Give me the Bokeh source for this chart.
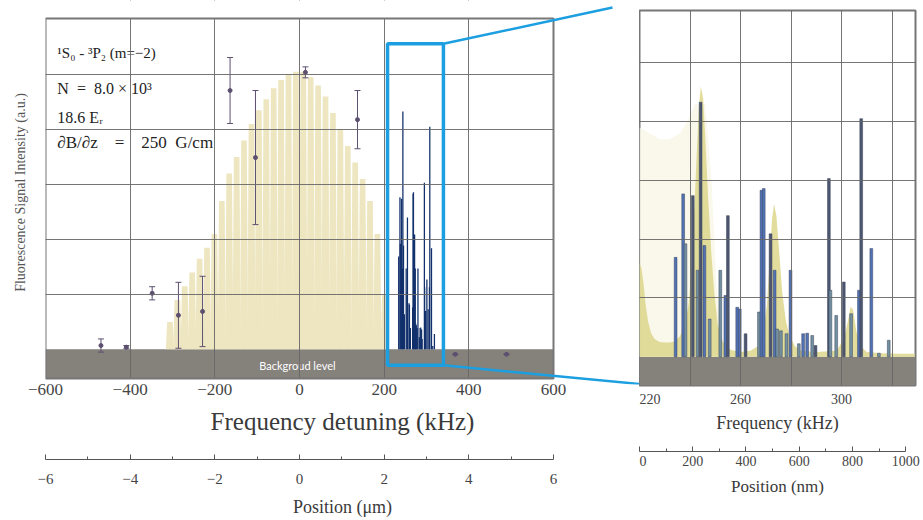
from bokeh.plotting import figure
from bokeh.models import (Range1d, LinearAxis, FixedTicker, BoxAnnotation, Label,
                          Whisker, TeeHead, ColumnDataSource, Arrow, Title)
from bokeh.layouts import row
from bokeh.transform import factor_cmap
from bokeh.embed import file_html
from bokeh.resources import INLINE

# ---------------- data ----------------
# lattice-resolved spectrum (yellow comb), main panel
comb_freq = [-306, -288.5, -271, -253.5, -236, -218.5, -201, -183.5, -166, -148.5,
             -131, -113.5, -96, -78.5, -61, -43.5, -26, -8.5, 9, 26.5,
             44, 61.5, 79, 96.5, 114, 131.5, 149, 166.5, 184, 201.5]
comb_height = [0.5, 0.9, 1.15, 1.4, 1.65, 1.85, 2.1, 2.7, 3.2, 3.5,
               3.8, 4.1, 4.35, 4.55, 4.75, 4.9, 5.0, 5.05, 5.05, 4.95,
               4.8, 4.6, 4.3, 4.0, 3.7, 3.4, 3.1, 2.7, 2.1, 1.0]

# measured points with error bars
pt_freq = [-469, -409, -348, -286, -229, -164, -104, 14, 137, 368, 489]
pt_val = [0.07, 0.04, 1.02, 0.62, 0.69, 4.71, 3.49, 5.04, 4.18, -0.09, -0.09]
pt_err = [0.12, 0.03, 0.12, 0.60, 0.64, 0.60, 1.22, 0.10, 0.53, 0.0, 0.0]

# zoomed single-site spectrum (bars)
bar_freq = [234.3, 237.3, 238.2, 241.1, 243.0, 244.2, 245.7, 247.8, 252.0, 254.0,
            255.0, 258.7, 259.7, 262.0, 267.3, 268.3, 269.2, 271.9, 273.5, 274.5,
            276.0, 278.2, 279.8, 283.1, 284.8, 286.4, 288.4, 289.7, 295.0, 295.6,
            297.9, 300.9, 303.8, 306.9, 307.8, 311.8, 314.8, 318.7]
bar_val = [1.69, 2.77, 1.92, 2.74, 1.47, 4.33, 1.89, 0.64, 1.47, 1.04,
           2.40, 0.84, 0.81, 0.39, 0.76, 2.83, 2.86, 2.09, 1.47, 0.47,
           0.44, 0.39, 1.47, 0.22, 0.39, 0.40, 0.36, 0.19, 3.03, 1.13,
           0.70, 1.27, 0.73, 1.13, 4.05, 1.84, 0.06, 0.28]
bar_group = ["a", "a", "c", "b", "c", "b", "a", "c", "c", "a",
             "b", "a", "a", "b", "c", "a", "a", "b", "a", "c",
             "c", "c", "a", "c", "a", "a", "c", "b", "b", "c",
             "c", "b", "c", "a", "b", "a", "c", "c"]

# yellow spectrum profile in the zoom panel
prof_freq = [220.0, 220.8, 221.6, 222.4, 223.4, 224.6, 226.0, 228.0, 230.0, 232.0,
             234.0, 236.0, 238.0, 239.5, 240.8, 241.8, 242.8, 243.6, 244.3, 245.2,
             246.2, 247.2, 248.4, 249.6, 251.0, 253.0, 256.0, 260.0, 264.0, 267.0,
             269.0, 270.5, 271.6, 272.5, 273.3, 274.2, 275.3, 276.5, 278.0, 279.5,
             281.5, 284.0, 290.0, 298.0, 301.0, 302.5, 303.6, 304.6, 305.8, 307.5,
             310.0, 316.0, 322.0, 329.0]
prof_val = [1.60, 1.50, 1.25, 0.90, 0.60, 0.40, 0.30, 0.25, 0.24, 0.24,
            0.26, 0.35, 0.55, 0.90, 1.60, 2.60, 3.60, 4.30, 4.60, 4.40,
            3.60, 2.70, 1.80, 1.10, 0.55, 0.25, 0.12, 0.08, 0.10, 0.18,
            0.40, 0.90, 1.70, 2.35, 2.60, 2.40, 1.80, 1.10, 0.60, 0.35,
            0.18, 0.10, 0.08, 0.10, 0.30, 0.60, 0.85, 0.80, 0.45, 0.18,
            0.08, 0.06, 0.05, 0.05]
# faint wide wash at the low-frequency side of the zoom panel
wash_freq = [220.0, 224.0, 228.0, 232.0, 236.0, 239.0, 242.0, 246.0, 248.5, 250.5, 252.5]
wash_val = [3.9, 3.8, 3.7, 3.7, 3.8, 4.0, 4.3, 4.3, 3.0, 1.2, 0.2]

# ticks
freq_ticks = [-600, -400, -200, 0, 200, 400, 600]
freq_grid = [-400, -200, 0, 200, 400]
pos_um_ticks = [-6, -4, -2, 0, 2, 4, 6]
pos_um_minor = [-5, -3, -1, 1, 3, 5]
zoom_freq_ticks = [220, 260, 300]
zoom_freq_grid = [240, 260, 280, 300, 320]
pos_nm_ticks = [0, 200, 400, 600, 800, 1000]
pos_nm_minor = [100, 300, 500, 700, 900]
intensity_grid = [1, 2, 3, 4, 5]

background_level = 0.0
zoom_window = {"left": 208, "right": 340, "bottom": -0.29, "top": 5.56}

# ---------------- styles / geometry ----------------
SERIF = "Liberation Serif"
GRID = "#666666"
CYAN = "#1c9fe0"
YELLOW = "#ede6c0"
BAND = "#85817b"
TXT = "#3a3a3a"

W1, W2, H = 639, 284, 520
PX_L, PX_R, PX_T, PX_B = 45, 553, 18, 378       # main panel box (pixels)
FRAME_B = 384                                   # frame extends a bit below for the connector
PANEL_X = (-600, 600)
PANEL_Y = (-0.53, 6.02)
xpp = (PANEL_X[1] - PANEL_X[0]) / (PX_R - PX_L)
ypp = (PANEL_Y[1] - PANEL_Y[0]) / (PX_B - PX_T)


def px_x(sx):
    return PANEL_X[0] + (sx - PX_L) * xpp


def px_y(sy):
    return PANEL_Y[1] + (PX_T - sy) * ypp


X1 = (PANEL_X[0], px_x(W1))
Y1 = (px_y(FRAME_B), px_y(0))

# ================= main panel =================
p = figure(width=W1, height=H, x_range=Range1d(*X1), y_range=Range1d(*Y1),
           output_backend="svg", toolbar_location=None, frame_align=False,
           min_border_left=PX_L, min_border_right=0, min_border_top=0,
           min_border_bottom=H - FRAME_B)
p.extra_x_ranges = {"um": Range1d(-6, -6 + (X1[1] - X1[0]) / 100)}
p.background_fill_color = "white"
p.border_fill_color = "white"
p.outline_line_color = None

p.add_layout(BoxAnnotation(top=background_level, bottom=PANEL_Y[0], right=PANEL_X[1],
                           fill_color=BAND, fill_alpha=1.0, line_color=None, level="underlay"))

xs = [[c - 9.6, c - 6.6, c + 6.6, c + 9.6] for c in comb_freq]
ys = [[background_level, h, h, background_level] for h in comb_height]
p.patches(xs, ys, fill_color=YELLOW, line_color=None)

p.vbar(x=bar_freq, top=bar_val, bottom=background_level, width=3.0,
       fill_color="#12306c", line_color=None)

src = ColumnDataSource(dict(x=pt_freq, y=pt_val,
                            upper=[v + e for v, e in zip(pt_val, pt_err)],
                            lower=[v - e for v, e in zip(pt_val, pt_err)]))
wh = Whisker(source=src, base="x", upper="upper", lower="lower", dimension="height",
             line_color="#5d5070", line_width=1, level="annotation",
             upper_head=TeeHead(size=6, line_color="#5d5070", line_width=1),
             lower_head=TeeHead(size=6, line_color="#5d5070", line_width=1))
p.add_layout(wh)
p.scatter("x", "y", source=src, size=4, fill_color="#5d5070", line_color="#5d5070")

p.xgrid.ticker = FixedTicker(ticks=freq_grid)
p.ygrid.ticker = FixedTicker(ticks=intensity_grid)
for g in (p.xgrid, p.ygrid):
    g.grid_line_color = GRID
    g.grid_line_alpha = 0.9
    g.level = "overlay"

# white masks outside the panel box, then the panel border
cover = dict(fill_color="white", fill_alpha=1.0, line_color=None, level="overlay")
p.add_layout(BoxAnnotation(left=PANEL_X[1], **cover))
p.add_layout(BoxAnnotation(bottom=PANEL_Y[1], **cover))
p.add_layout(BoxAnnotation(top=PANEL_Y[0], **cover))
p.add_layout(BoxAnnotation(left=PANEL_X[0], right=PANEL_X[1], bottom=PANEL_Y[0], top=PANEL_Y[1],
                           fill_color=None, line_color="#777777", line_alpha=1.0,
                           line_width=2, level="overlay"))

p.add_layout(BoxAnnotation(fill_color=None, line_color=CYAN, line_alpha=1.0, line_width=3.5,
                           level="overlay", **zoom_window))

# connectors from the zoom window towards the zoom panel
for y_start, (ex, ey) in ((zoom_window["top"], (612, 7)), (zoom_window["bottom"], (W1, 383.5))):
    p.add_layout(Arrow(end=None, x_start=zoom_window["right"], y_start=y_start,
                       x_end=px_x(ex), y_end=px_y(ey), line_color=CYAN, line_width=2.5,
                       level="overlay"))

# annotations
lab_kw = dict(text_font=SERIF, text_color="#222222", text_baseline="middle")
p.add_layout(Label(x=-572, y=5.40, text="¹S₀ - ³P₂ (m=−2)", text_font_size="15px", **lab_kw))
p.add_layout(Label(x=-572, y=4.75, text="N\u2002=\u20028.0 × 10³", text_font_size="16px", **lab_kw))
p.add_layout(Label(x=-572, y=4.22, text="18.6 Eᵣ", text_font_size="16px", **lab_kw))
p.add_layout(Label(x=-572, y=3.76, text="∂B/∂z\u2003=\u2003250\u2002G/cm", text_font_size="17px", **lab_kw))
p.add_layout(Label(x=-5, y=-0.29, text="Backgroud level", text_font="Lato",
                   text_font_size="11px", text_color="white", text_align="center",
                   text_baseline="middle"))

# axes
ax = p.xaxis[0]
ax.ticker = FixedTicker(ticks=freq_ticks)
ax.bounds = PANEL_X
ax.axis_line_color = None
ax.major_tick_out = 0
ax.major_tick_in = 0
ax.minor_tick_out = 0
ax.minor_tick_in = 0
ax.major_label_standoff = -1
ax.major_label_text_font = SERIF
ax.major_label_text_font_size = "17px"
ax.major_label_text_color = "#444444"
ax.axis_label = "Frequency detuning (kHz)"
ax.axis_label_text_font = SERIF
ax.axis_label_text_font_size = "25px"
ax.axis_label_text_font_style = "normal"
ax.axis_label_text_color = TXT
ax.axis_label_standoff = 10

ay = p.yaxis[0]
ay.ticker = FixedTicker(ticks=[])
ay.axis_line_color = None
ay.major_tick_out = 0
ay.minor_tick_out = 0
ay.axis_label = "Fluorescence Signal Intensity (a.u.)"
ay.axis_label_text_font = SERIF
ay.axis_label_text_font_size = "14px"
ay.axis_label_text_font_style = "normal"
ay.axis_label_text_color = "#555555"
ay.axis_label_standoff = 18

p.add_layout(Title(text=" ", text_font_size="1px", standoff=19, vertical_align="top"), "below")

ax2 = LinearAxis(x_range_name="um", ticker=FixedTicker(ticks=pos_um_ticks, minor_ticks=pos_um_minor),
                 axis_label="Position (μm)", bounds=(-6, 6))
ax2.axis_line_color = "#555555"
ax2.major_tick_in = 5
ax2.major_tick_out = 0
ax2.minor_tick_in = 3
ax2.minor_tick_out = 0
ax2.major_tick_line_color = "#555555"
ax2.minor_tick_line_color = "#555555"
ax2.major_label_standoff = 14
ax2.major_label_text_font = SERIF
ax2.major_label_text_font_size = "15px"
ax2.major_label_text_color = "#444444"
ax2.axis_label_text_font = SERIF
ax2.axis_label_text_font_size = "18px"
ax2.axis_label_text_font_style = "normal"
ax2.axis_label_text_color = TXT
ax2.axis_label_standoff = 10
p.add_layout(ax2, "below")

# ================= zoom panel =================
L2, R2, T2, B2 = 0, 8, 10, 135
X2 = (220, 329.3)
Y2 = (-0.49, 5.89)
q = figure(width=W2, height=H, x_range=Range1d(*X2), y_range=Range1d(*Y2),
           output_backend="svg", toolbar_location=None, y_axis_location=None, frame_align=False,
           min_border_left=L2, min_border_right=R2, min_border_top=T2, min_border_bottom=B2)
q.extra_x_ranges = {"nm": Range1d(0, 1037)}
q.background_fill_color = "white"
q.border_fill_color = "white"
q.outline_line_color = "#777777"
q.outline_line_width = 2

q.add_layout(BoxAnnotation(top=background_level, fill_color=BAND, fill_alpha=1.0,
                           line_color=None, level="underlay"))
q.varea(x=wash_freq, y1=background_level, y2=wash_val, fill_color="#f8f6e6", fill_alpha=0.8)
q.varea(x=prof_freq, y1=background_level, y2=prof_val, fill_color="#ddd68c", fill_alpha=0.85)

bsrc = ColumnDataSource(dict(x=bar_freq, top=bar_val, group=bar_group))
q.vbar(x="x", top="top", bottom=background_level, width=1.1, source=bsrc,
       fill_color=factor_cmap("group", ["#5272b4", "#4d566e", "#7390a0"], ["a", "b", "c"]),
       line_color="#3a4660", line_width=0.5)

q.xgrid.ticker = FixedTicker(ticks=zoom_freq_grid)
q.ygrid.ticker = FixedTicker(ticks=intensity_grid)
for g in (q.xgrid, q.ygrid):
    g.grid_line_color = GRID
    g.grid_line_alpha = 0.9
    g.level = "overlay"

bx = q.xaxis[0]
bx.ticker = FixedTicker(ticks=zoom_freq_ticks)
bx.axis_line_color = None
bx.major_tick_out = 0
bx.major_tick_in = 0
bx.minor_tick_out = 0
bx.minor_tick_in = 0
bx.major_label_standoff = 8
bx.major_label_text_font = SERIF
bx.major_label_text_font_size = "14px"
bx.major_label_text_color = "#444444"
bx.axis_label = "Frequency (kHz)"
bx.axis_label_text_font = SERIF
bx.axis_label_text_font_size = "18px"
bx.axis_label_text_font_style = "normal"
bx.axis_label_text_color = TXT
bx.axis_label_standoff = 6

q.add_layout(Title(text=" ", text_font_size="1px", standoff=13, vertical_align="top"), "below")

bx2 = LinearAxis(x_range_name="nm", ticker=FixedTicker(ticks=pos_nm_ticks, minor_ticks=pos_nm_minor),
                 axis_label="Position (nm)", bounds=(0, 1000))
bx2.axis_line_color = "#555555"
bx2.major_tick_in = 5
bx2.major_tick_out = 0
bx2.minor_tick_in = 3
bx2.minor_tick_out = 0
bx2.major_tick_line_color = "#555555"
bx2.minor_tick_line_color = "#555555"
bx2.major_label_standoff = 4
bx2.major_label_text_font = SERIF
bx2.major_label_text_font_size = "14px"
bx2.major_label_text_color = "#444444"
bx2.axis_label_text_font = SERIF
bx2.axis_label_text_font_size = "17px"
bx2.axis_label_text_font_style = "normal"
bx2.axis_label_text_color = TXT
bx2.axis_label_standoff = 8
q.add_layout(bx2, "below")

layout = row(p, q, spacing=0)
open("out.html", "w").write(file_html(layout, INLINE))
